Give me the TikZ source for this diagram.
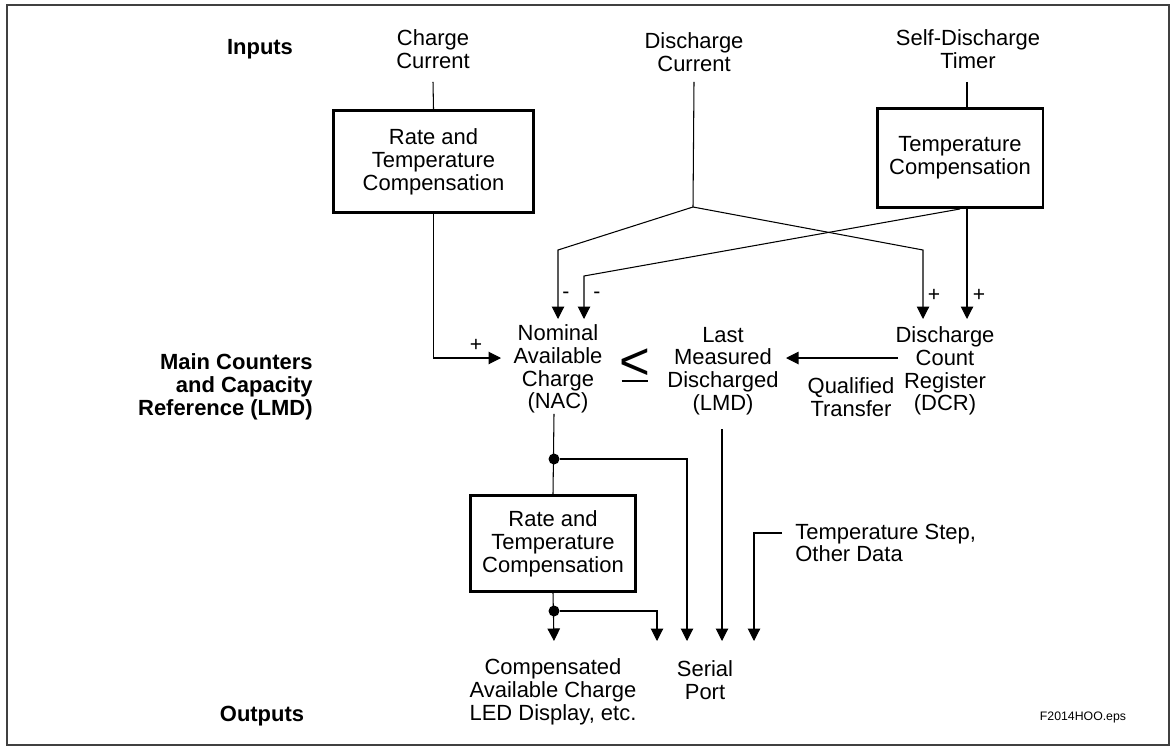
\documentclass[tikz,border=0pt]{standalone}
\usepackage{fontspec}
\setmainfont{Liberation Sans}
\usetikzlibrary{arrows.meta,positioning}
\tikzset{
gglabel/.style={align=center, inner sep=0pt, font=\fontsize{12.5}{13}\selectfont},
ggside/.style={align=right, inner sep=0pt, font=\fontsize{12.5}{13}\selectfont\bfseries},
ggbox/.style={draw, line width=1.7pt, align=center, inner sep=0pt,
  font=\fontsize{12.5}{13}\selectfont},
ggline/.style={line width=0.6pt},
ggarrow/.style={ggline, -{Triangle[length=2.5mm,width=2.5mm]}},
ggdot/.style={circle, fill, inner sep=0pt, minimum size=2.2mm},
ggsign/.style={inner sep=0pt, font=\fontsize{12}{12}\selectfont}
}
\begin{document}
\begin{tikzpicture}[x=0.02cm, y=-0.02cm]
\useasboundingbox (0,0) rectangle (1176,747);
\draw[line width=0.8pt, draw=black!75] (7,5) rectangle (1169,745);

% row labels
\node[ggside] (inputs) at (260,49) {Inputs};
\node[ggside, anchor=east] (main) at (313,387) {Main Counters\\and Capacity\\Reference (LMD)};
\node[ggside] (outputs) at (262,716) {Outputs};

% inputs
\node[gglabel] (chg) at (433,49) {Charge\\Current};
\node[gglabel] (dis) at (694,52) {Discharge\\Current};
\node[gglabel] (sdt) at (968,49) {Self-Discharge\\Timer};
\node[ggbox, minimum width=4cm, minimum height=2.04cm] (chgcomp) at (433.5,161.5) {Rate and\\Temperature\\Compensation};
\node[ggbox, minimum width=3.32cm, minimum height=1.98cm] (tcomp) at (960,158) {Temperature\\Compensation};

% main counters
\node[gglabel] (nac) at (558,369) {Nominal\\Available\\Charge\\(NAC)};
\node[gglabel, anchor=base] (leq) at (635,379) {\fontsize{30}{30}\selectfont
  \makebox[0pt][l]{\hspace{1.2pt}\rule[-1.5pt]{15pt}{0.8pt}}<};
\node[gglabel] (lmd) at (723,371) {Last\\Measured\\Discharged\\(LMD)};
\node[gglabel] (dcr) at (945,371) {Discharge\\Count\\Register\\(DCR)};
\node[gglabel] (qt) at (851,397) {Qualified\\Transfer};

% outputs
\node[ggbox, minimum width=3.3cm, minimum height=1.92cm] (rtcomp) at (553,543.5) {Rate and\\Temperature\\Compensation};
\node[gglabel, anchor=west, align=left] (tstep) at (795,543) {Temperature Step,\\Other Data};
\node[gglabel] (led) at (553,692) {Compensated\\Available Charge\\LED Display, etc.};
\node[gglabel] (serial) at (705,680) {Serial\\Port};
\node[inner sep=0pt, font=\fontsize{7}{8}\selectfont] (fname) at (1083,717) {F2014HOO.eps};

% junctions and arrow ends
\coordinate (disj) at (693,207);
\coordinate (nacP) at (501,358);
\coordinate (nacA) at (558,319);
\coordinate (nacB) at (584,319);
\coordinate (dcrA) at (923,319);
\coordinate (dcrB) at (967,319);
\coordinate (qtstart) at (898,358);
\coordinate (qtend) at (786,358);
\node[ggdot] (dotA) at (554,459) {};
\node[ggdot] (dotB) at (554,611) {};
\coordinate (ledin) at (554,641);
\coordinate (serA) at (657,641);
\coordinate (serB) at (687,641);
\coordinate (serC) at (722,641);
\coordinate (serD) at (754,641);

\draw[ggline] (chg.south) ++(0,13) -- (chgcomp.north);
\draw[ggline] (sdt.south -| tcomp.south) ++(7,13) -- ++(0,25);
\draw[ggline] (dis.south) ++(0,10) -- (disj);
\draw[ggarrow] (chgcomp.south) |- (nacP);
\draw[ggarrow] (disj) -- (558,250) -- (nacA);
\draw[ggarrow] (disj) -- (923,250) -- (dcrA);
\draw[ggarrow] (tcomp.south) -- (584,276) -- (nacB);
\draw[ggarrow] (tcomp.south -| dcrB) -- (dcrB);
\draw[ggarrow] (qtstart) -- (qtend);

\node[ggsign] at (476,345) {+};
\node[ggsign] at (566,295) {-};
\node[ggsign] at (597,295) {-};
\node[ggsign] at (934,295) {+};
\node[ggsign] at (979,295) {+};

\draw[ggline] (nac.south -| dotA) -- (rtcomp.north);
\draw[ggarrow] (dotA) -| (serB);
\draw[ggarrow] (rtcomp.south) -- (ledin);
\draw[ggarrow] (dotB) -| (serA);
\draw[ggarrow] (lmd.south) ++(-1,14) -- (serC);
\draw[ggarrow] (tstep.west) ++(-13,-10) -| (serD);
\end{tikzpicture}
\end{document}
